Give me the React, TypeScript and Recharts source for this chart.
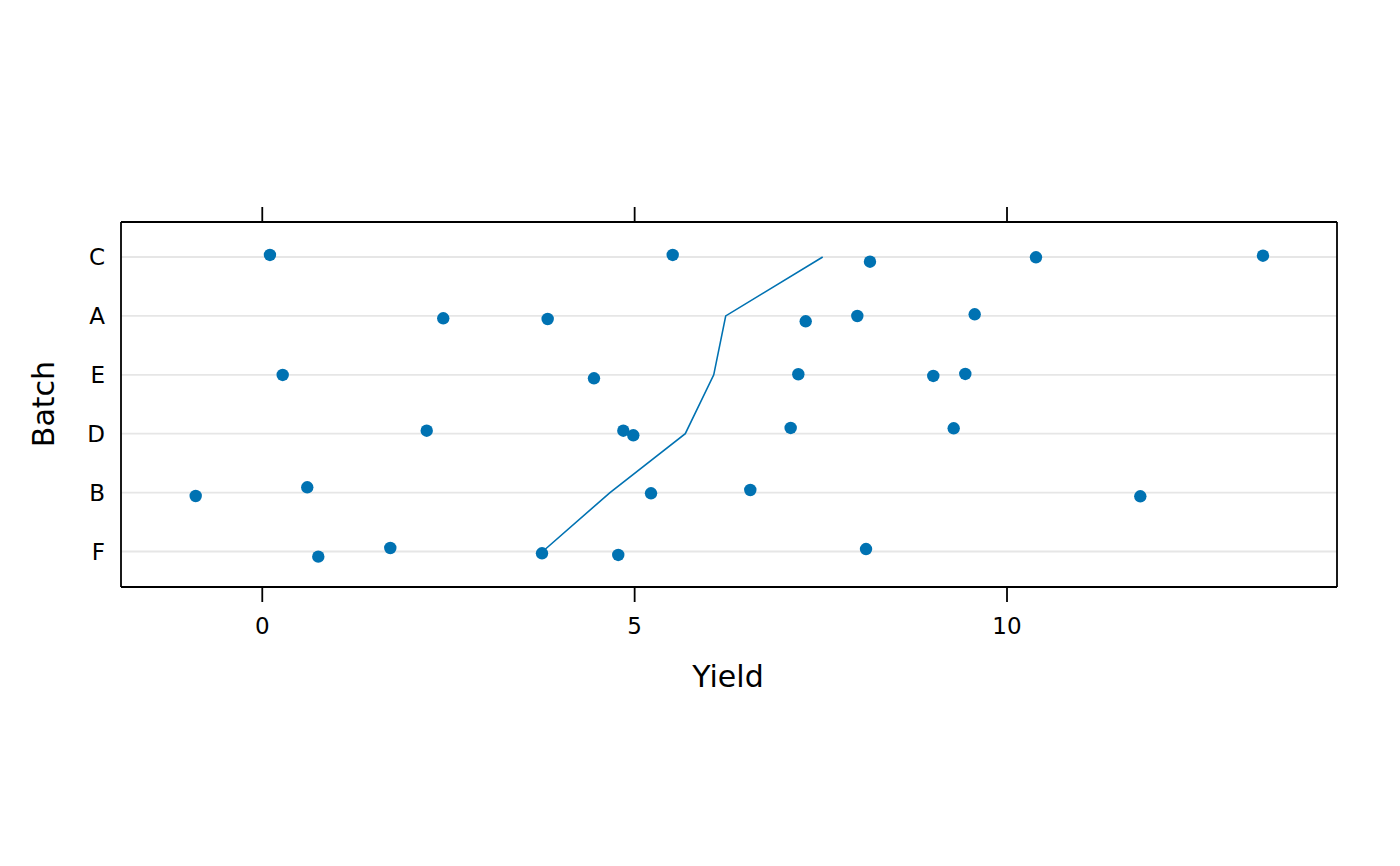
import { CartesianGrid, Scatter, ScatterChart, XAxis, YAxis } from 'recharts';

// rows from bottom to top
const batches = ['F', 'B', 'D', 'E', 'A', 'C'];

// yield of each run, by batch
const yieldF = [0.752, 1.719, 3.756, 4.78, 8.107];
const yieldB = [-0.894, 0.604, 5.22, 6.553, 11.79];
const yieldD = [2.208, 4.848, 4.982, 7.095, 9.284];
const yieldE = [0.274, 4.454, 7.198, 9.01, 9.44];
const yieldA = [2.43, 3.832, 7.297, 7.99, 9.566];
const yieldC = [0.103, 5.511, 8.16, 10.389, 13.437];

// vertical jitter of each run, same order
const jitterF = [-0.088, 0.059, -0.031, -0.059, 0.042];
const jitterB = [-0.058, 0.09, -0.012, 0.044, -0.063];
const jitterD = [0.051, 0.051, -0.027, 0.097, 0.092];
const jitterE = [-0.003, -0.059, 0.009, -0.02, 0.014];
const jitterA = [-0.041, -0.053, -0.092, -0.002, 0.027];
const jitterC = [0.034, 0.034, -0.08, -0.005, 0.022];

// the line through the batches
const trendYield = [3.765, 4.669, 5.68, 6.062, 6.223, 7.525];

const xTicks = [0, 5, 10];

const BLUE = '#0072B2';

const yields = [yieldF, yieldB, yieldD, yieldE, yieldA, yieldC];
const jitters = [jitterF, jitterB, jitterD, jitterE, jitterA, jitterC];

const points = yields.flatMap((row, i) =>
  row.map((x, j) => ({ x, y: i + 1 + jitters[i][j] }))
);
const trend = trendYield.map((x, i) => ({ x, y: i + 1 }));

const Dot = (props: any) => <circle cx={props.cx} cy={props.cy} r={6.2} fill={BLUE} />;
const NoDot = () => <g />;

const frame = { stroke: '#000', strokeWidth: 1.8 };

export default function App() {
  return (
    <div style={{ position: 'absolute', left: 0, top: 0, background: '#fff' }}>
      <ScatterChart
        width={1400}
        height={866}
        margin={{ top: 221, right: 62, bottom: 219, left: 61 }}
        style={{ fontFamily: '"DejaVu Sans", sans-serif' }}
      >
        <CartesianGrid vertical={false} stroke="#e6e6e6" strokeWidth={1.8} yAxisId="left" />
        <XAxis
          xAxisId="bottom"
          type="number"
          dataKey="x"
          domain={[-1.897, 14.431]}
          ticks={xTicks}
          allowDataOverflow
          height={60}
          tickSize={15}
          tickMargin={16}
          axisLine={frame}
          tickLine={frame}
          tick={{ fill: '#000', fontSize: 23 }}
        />
        {/* top side of the box: ticks only, no labels */}
        <XAxis
          xAxisId="top"
          orientation="top"
          type="number"
          dataKey="x"
          domain={[-1.897, 14.431]}
          ticks={xTicks}
          allowDataOverflow
          height={1}
          tickSize={15}
          tickFormatter={() => ''}
          axisLine={frame}
          tickLine={frame}
        />
        <YAxis
          yAxisId="left"
          type="number"
          dataKey="y"
          domain={[0.397, 6.594]}
          ticks={[1, 2, 3, 4, 5, 6]}
          allowDataOverflow
          width={60}
          tickSize={0}
          tickMargin={16}
          tickFormatter={(v: number) => batches[v - 1]}
          axisLine={frame}
          tickLine={false}
          tick={{ fill: '#000', fontSize: 23 }}
        />
        <YAxis
          yAxisId="right"
          orientation="right"
          type="number"
          dataKey="y"
          domain={[0.397, 6.594]}
          allowDataOverflow
          width={1}
          tick={false}
          tickLine={false}
          axisLine={frame}
        />
        {/* invisible copy so the top and right frame axes get drawn */}
        <Scatter
          data={trend}
          xAxisId="top"
          yAxisId="right"
          shape={NoDot}
          isAnimationActive={false}
        />
        <Scatter
          data={trend}
          xAxisId="bottom"
          yAxisId="left"
          line={{ stroke: BLUE, strokeWidth: 1.6 }}
          shape={NoDot}
          isAnimationActive={false}
        />
        <Scatter
          data={points}
          xAxisId="bottom"
          yAxisId="left"
          fill={BLUE}
          shape={Dot}
          isAnimationActive={false}
        />
        <text x={728} y={687} textAnchor="middle" fontSize={30} fill="#000">
          Yield
        </text>
        <text
          x={54}
          y={404}
          textAnchor="middle"
          fontSize={30}
          fill="#000"
          transform="rotate(-90 54 404)"
        >
          Batch
        </text>
      </ScatterChart>
    </div>
  );
}
